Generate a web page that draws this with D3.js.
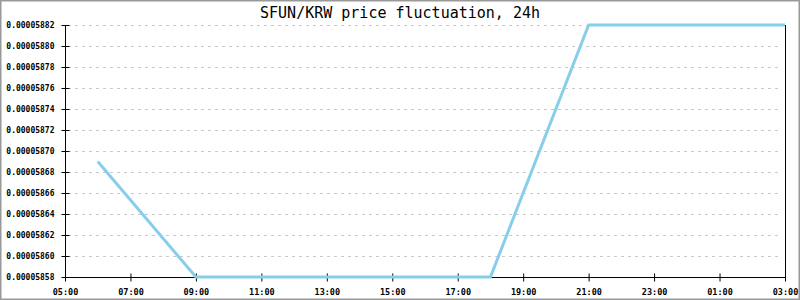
<!DOCTYPE html>
<html><head><meta charset="utf-8">
<script src="https://cdn.jsdelivr.net/npm/d3@7"></script>
<style>body{margin:0;background:#fff}svg{display:block}</style>
</head><body>
<svg id="c" width="800" height="300"></svg>
<script>
const title = "SFUN/KRW price fluctuation, 24h";
const times = ["2024-01-01T06:00Z","2024-01-01T09:00Z","2024-01-01T18:00Z","2024-01-01T21:00Z","2024-01-02T03:00Z"];
const prices = [0.00005869,0.00005858,0.00005858,0.00005882,0.00005882];
const xDomain = ["2024-01-01T05:00Z","2024-01-02T03:00Z"];
const xTicks = ["2024-01-01T05:00Z","2024-01-01T07:00Z","2024-01-01T09:00Z","2024-01-01T11:00Z","2024-01-01T13:00Z","2024-01-01T15:00Z","2024-01-01T17:00Z","2024-01-01T19:00Z","2024-01-01T21:00Z","2024-01-01T23:00Z","2024-01-02T01:00Z","2024-01-02T03:00Z"];
const yTicks = [0.00005858,0.00005860,0.00005862,0.00005864,0.00005866,0.00005868,0.00005870,0.00005872,0.00005874,0.00005876,0.00005878,0.00005880,0.00005882];

const svg = d3.select("#c");
const L=65,R=785,T=25,B=277;
const x = d3.scaleUtc().domain(xDomain.map(d=>new Date(d))).range([L,R]);
const y = d3.scaleLinear().domain([yTicks[0], yTicks[yTicks.length-1]]).range([B,T]);

svg.append("rect").attr("x",0.5).attr("y",0.5).attr("width",799).attr("height",299)
  .attr("fill","#fff").attr("stroke","#999").attr("stroke-width",2);

// grid
svg.append("g").selectAll("line").data(yTicks.slice(1)).join("line")
  .attr("x1",L+3).attr("x2",R-3).attr("y1",d=>Math.round(y(d))+0.5).attr("y2",d=>Math.round(y(d))+0.5)
  .attr("stroke","#c8c8c8").attr("stroke-dasharray","3,4");

const font = "'DejaVu Sans Mono', monospace";
// y axis
const ya = svg.append("g").attr("transform",`translate(${L+0.5},0)`)
  .call(d3.axisLeft(y).tickValues(yTicks).tickFormat(d=>d.toFixed(8)).tickSize(4).tickPadding(6));
ya.selectAll(".tick line").attr("x2",4).attr("x1",-4).attr("stroke","#000");
ya.select(".domain").attr("d",`M0,${T}V${B}`).attr("stroke","#000");
ya.selectAll("text").attr("font-family",font).attr("font-size",8).attr("font-weight","bold").attr("fill","#000").attr("x",-11);

// x axis
const xa = svg.append("g").attr("transform",`translate(0,${B+0.5})`)
  .call(d3.axisBottom(x).tickValues(xTicks.map(d=>new Date(d))).tickFormat(d3.utcFormat("%H:%M")).tickSize(4).tickPadding(7));
xa.selectAll(".tick line").attr("y1",-4).attr("y2",4).attr("stroke","#000");
xa.select(".domain").attr("d",`M${L},0H${R}`).attr("stroke","#000");
xa.selectAll("text").attr("font-family",font).attr("font-size",8.5).attr("font-weight","bold").attr("fill","#000");

// right border line
svg.append("line").attr("x1",R+0.5).attr("x2",R+0.5).attr("y1",T).attr("y2",B).attr("stroke","#000");

// line
const data = times.map((t,i)=>({t:new Date(t),v:prices[i]}));
svg.append("path").datum(data)
  .attr("d",d3.line().x(d=>x(d.t)).y(d=>y(d.v)))
  .attr("fill","none").attr("stroke","#87ceeb").attr("stroke-width",3);

svg.append("text").attr("x",400).attr("y",18).attr("text-anchor","middle")
  .attr("font-family",font).attr("font-size",15).attr("fill","#000").text(title);
</script>
</body></html>
